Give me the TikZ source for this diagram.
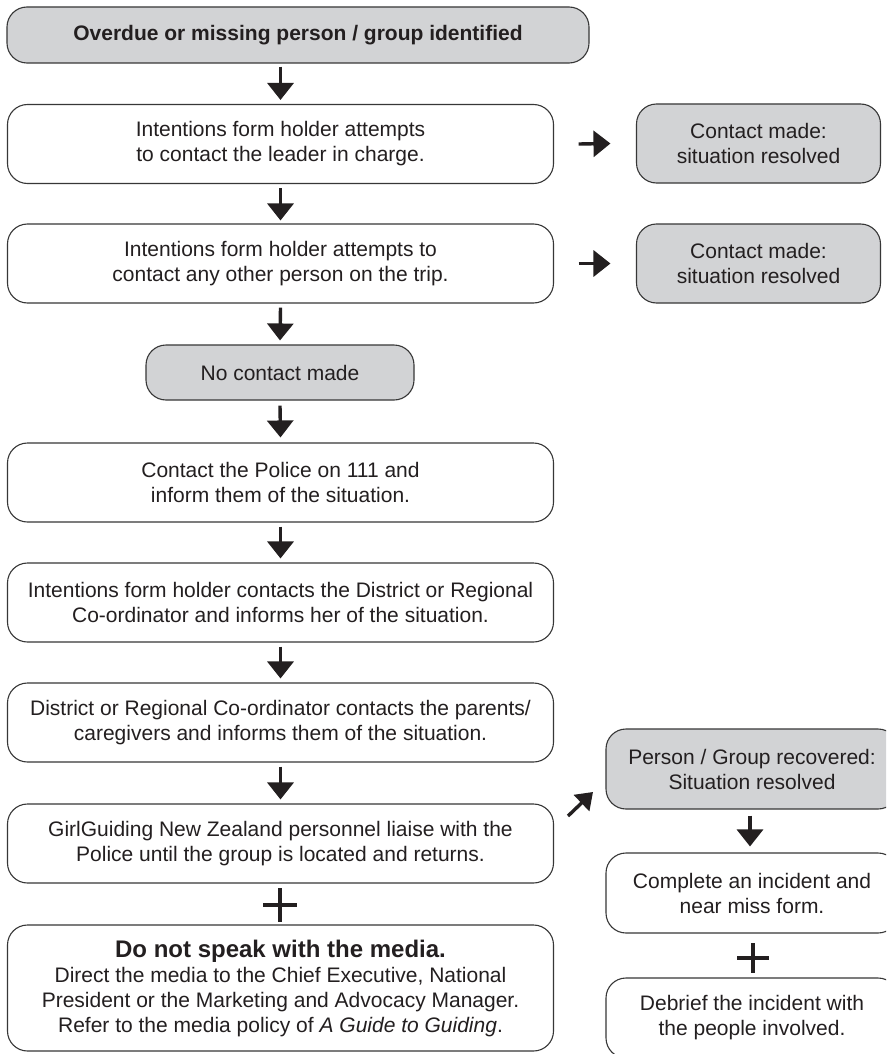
\documentclass[tikz,border=0pt]{standalone}
\usepackage{fontspec}
\setmainfont{Liberation Sans}
\usetikzlibrary{arrows.meta}
\definecolor{boxgray}{RGB}{210,211,213}
\definecolor{ink}{RGB}{35,31,32}
\definecolor{edgecol}{RGB}{55,55,55}
\begin{document}
\begin{tikzpicture}[x=1pt,y=-1pt,
  box/.style={draw=edgecol, line width=1.1pt, rounded corners=20pt, align=center,
    inner sep=0pt, font=\fontsize{21}{25}\selectfont, text=ink},
  graybox/.style={box, fill=boxgray},
  wbox/.style={box, fill=white},
  wide/.style={minimum width=546pt, minimum height=79pt},
  side/.style={minimum width=244pt, minimum height=79pt},
  rcol/.style={minimum width=292pt, minimum height=80pt},
  flow/.style={draw=ink, line width=3.4pt, -{Triangle[width=26pt,length=17pt]}},
  plusline/.style={draw=ink, line width=3.6pt}
]
\path[use as bounding box] (0,0) rectangle (886,1054);
\clip (0,0) rectangle (886,1054);
\fill[white] (0,0) rectangle (886,1054);

% left column
\node[graybox, minimum width=582pt, minimum height=56pt] (top) at (298,35)
  {\bfseries Overdue or missing person / group identified};
\node[wbox, wide] (b2) at (280.5,144)
  {Intentions form holder attempts\\to contact the leader in charge.};
\node[wbox, wide] (b3) at (280.5,263.5)
  {Intentions form holder attempts to\\contact any other person on the trip.};
\node[graybox, minimum width=268pt, minimum height=55pt] (nc) at (280,372.5)
  {No contact made};
\node[wbox, wide] (pol) at (280.5,482.5)
  {Contact the Police on 111 and\\inform them of the situation.};
\node[wbox, wide] (dist) at (280.5,602.5)
  {Intentions form holder contacts the District or Regional\\Co-ordinator and informs her of the situation.};
\node[wbox, wide] (par) at (280.5,722.5)
  {District or Regional Co-ordinator contacts the parents/\\caregivers and informs them of the situation.};
\node[wbox, wide] (gg) at (280.5,843.5)
  {GirlGuiding New Zealand personnel liaise with the\\Police until the group is located and returns.};
\node[wbox, minimum width=546pt, minimum height=126pt] (med) at (280.5,988)
  {{\fontsize{24}{27}\selectfont\bfseries Do not speak with the media.}\\
   Direct the media to the Chief Executive, National\\
   President or the Marketing and Advocacy Manager.\\
   Refer to the media policy of \textit{A Guide to Guiding}.};

% side boxes
\node[graybox, side] (c1) at (758.5,143.5) {Contact made:\\situation resolved};
\node[graybox, side] (c2) at (758.5,263.5) {Contact made:\\situation resolved};

% right column
\node[graybox, rcol] (rec) at (752,769) {Person / Group recovered:\\Situation resolved};
\node[wbox, rcol] (comp) at (752,893) {Complete an incident and\\near miss form.};
\node[wbox, rcol] (deb) at (752,1018) {Debrief the incident with\\the people involved.};

% down arrows
\path (b2.north |- top.south) coordinate (a1);
\draw[flow] ([yshift=-3pt]a1) -- ([yshift=4pt]b2.north);
\draw[flow] ([yshift=-4pt]b2.south) -- ([yshift=3pt]b3.north);
\draw[flow] ([yshift=-4pt]b3.south) -- ([yshift=4pt]nc.north);
\draw[flow] ([yshift=-5pt]nc.south) -- ([yshift=5pt]pol.north);
\draw[flow] ([yshift=-4pt]pol.south) -- ([yshift=4pt]dist.north);
\draw[flow] ([yshift=-4pt]dist.south) -- ([yshift=4pt]par.north);
\draw[flow] ([yshift=-4pt]par.south) -- ([yshift=4pt]gg.north);

% right arrows
\draw[flow] ([xshift=24.5pt]b2.east) -- ([xshift=-25.5pt]c1.west);
\draw[flow] ([xshift=24.5pt]b3.east) -- ([xshift=-25.5pt]c2.west);

% diagonal arrow
\coordinate (d1) at (568,816);
\coordinate (d2) at (593,792);
\draw[flow, -{Triangle[width=22pt,length=16pt]}] (d1) -- (d2);

% right column arrow
\path ([xshift=-2pt]rec.south) coordinate (r1);
\path ([xshift=-2pt]comp.north) coordinate (r2);
\draw[flow] ([yshift=-6pt]r1) -- ([yshift=6pt]r2);

% plus signs
\coordinate (p1) at (280,905);
\draw[plusline] ([yshift=17pt]p1) -- ([yshift=-17pt]p1);
\draw[plusline] ([xshift=-17pt]p1) -- ([xshift=17pt]p1);
\coordinate (p2) at (753,958);
\draw[plusline] ([yshift=15pt]p2) -- ([yshift=-15pt]p2);
\draw[plusline] ([xshift=-16pt]p2) -- ([xshift=16pt]p2);
\end{tikzpicture}
\end{document}
